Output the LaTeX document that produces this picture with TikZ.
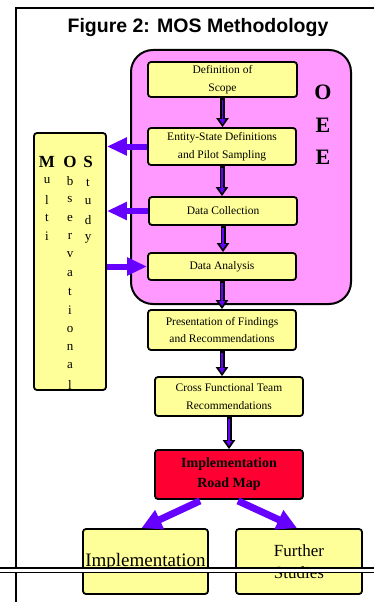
\documentclass[tikz,border=0pt]{standalone}
\usepackage{fontspec}
\setmainfont{Liberation Serif}
\newfontfamily\titlefont{Liberation Sans}
\usetikzlibrary{arrows.meta,calc}
\definecolor{pinkc}{HTML}{FF99FF}
\definecolor{yellowc}{HTML}{FFFF99}
\definecolor{redc}{HTML}{FF0033}
\definecolor{purplec}{HTML}{6600FF}
\newcommand\vconn[2]{%
  \draw[line width=5pt,-{Triangle[width=12pt,length=9pt]}] (#1.south) -- (#1.south |- #2.north);
  \draw[purplec,line width=1.8pt,-{Triangle[width=6pt,length=5pt]}] ($(#1.south)+(0,2)$) -- ($(#1.south |- #2.north)+(0,-3)$);}
\begin{document}
\begin{tikzpicture}[x=1pt,y=-1pt,
  ybox/.style={draw,line width=1.8pt,fill=yellowc,rounded corners=3pt,align=center,inner sep=0pt,
    font=\fontsize{11.5}{17.5}\selectfont},
  hpa/.style={purplec,line width=6pt,-{Triangle[width=17pt,length=20pt]}},
  dpa/.style={purplec,line width=7pt,-{Triangle[width=20pt,length=20pt]}},
  bigl/.style={font=\bfseries\fontsize{22}{24}\selectfont},
  mosl/.style={font=\bfseries\fontsize{17}{20}\selectfont},
  coll/.style={font=\fontsize{13}{15}\selectfont,inner sep=0pt}]
\useasboundingbox (0,0) rectangle (374,602);
\fill[white] (0,0) rectangle (374,602);
% frame
\draw[line width=2.5pt] (16,8) -- (374,8);
\draw[line width=1.5pt] (16,7) -- (16,602);
% title
\node[font=\titlefont\bfseries\fontsize{19.5}{24}\selectfont] (title) at (198,28) {Figure 2: MOS Methodology};
% OEE area
\node[draw,line width=2pt,fill=pinkc,rounded corners=22pt,minimum width=220pt,minimum height=254pt] (oee) at (241,177) {};
\node[bigl] (o1) at (323,92) {O};
\node[bigl] (e1) at (323,125) {E};
\node[bigl] (e2) at (323,157) {E};
% boxes
\node[ybox,minimum width=149pt,minimum height=35pt] (b1) at (222.5,79.5) {Definition of\\Scope};
\node[ybox,minimum width=148pt,minimum height=37pt] (b2) at (222,146.5) {Entity-State Definitions\\and Pilot Sampling};
\node[ybox,minimum width=148pt,minimum height=28pt] (b3) at (223,211) {Data Collection};
\node[ybox,minimum width=148pt,minimum height=27pt] (b4) at (222,266.5) {Data Analysis};
\node[ybox,minimum width=148pt,minimum height=40pt] (b5) at (222,330) {Presentation of Findings\\and Recommendations};
\node[ybox,minimum width=148pt,minimum height=39pt] (b6) at (229,396.5) {Cross Functional Team\\Recommendations};
\node[ybox,fill=redc,font=\bfseries\fontsize{14}{20}\selectfont,minimum width=148pt,minimum height=49pt] (rm) at (229,474.5) {Implementation\\Road Map};
\node[ybox,font=\fontsize{19}{22}\selectfont,minimum width=125pt,minimum height=65pt] (impl) at (145.5,561.5) {Implementation};
\node[ybox,font=\fontsize{17}{22}\selectfont,minimum width=126pt,minimum height=65pt] (fs) at (299,561.5) {Further\\Studies};
% MOS box
\node[ybox,minimum width=72pt,minimum height=257pt] (mos) at (70,261.5) {};
\node[mosl] (m) at (47,162) {M};
\node[mosl] (mo) at (70,162) {O};
\node[mosl] (ms) at (88,162) {S};
\foreach \c [count=\i from 0] in {u,l,t,i} \node[coll] (ca\i) at (47,181+18.5*\i) {\c};
\foreach \c [count=\i from 0] in {b,s,e,r,v,a,t,i,o,n,a,l} \node[coll] (cb\i) at (70,181+18.5*\i) {\c};
\foreach \c [count=\i from 0] in {t,u,d,y} \node[coll] (cc\i) at (88,183+18.5*\i) {\c};
% vertical connectors
\vconn{b1}{b2}
\vconn{b2}{b3}
\vconn{b3}{b4}
\vconn{b4}{b5}
\vconn{b5}{b6}
\vconn{b6}{rm}
% horizontal arrows
\draw[hpa] (b2.west) -- (b2.west -| mos.east);
\draw[hpa] (b3.west) -- (b3.west -| mos.east);
\draw[hpa] (b4.west -| mos.east) -- (b4.west);
% bottom arrows
\draw[dpa] ($(rm.south)+(-29,1)$) -- ($(impl.north)+(-4,0)$);
\draw[dpa] ($(rm.south)+(9,1)$) -- ($(fs.north)+(-2,0)$);
% double line
\fill[white] (0,568) rectangle (374,572.5);
\draw[line width=1.3pt] (0,568) -- (374,568);
\draw[line width=1.3pt] (0,572.5) -- (374,572.5);
\end{tikzpicture}
\end{document}
